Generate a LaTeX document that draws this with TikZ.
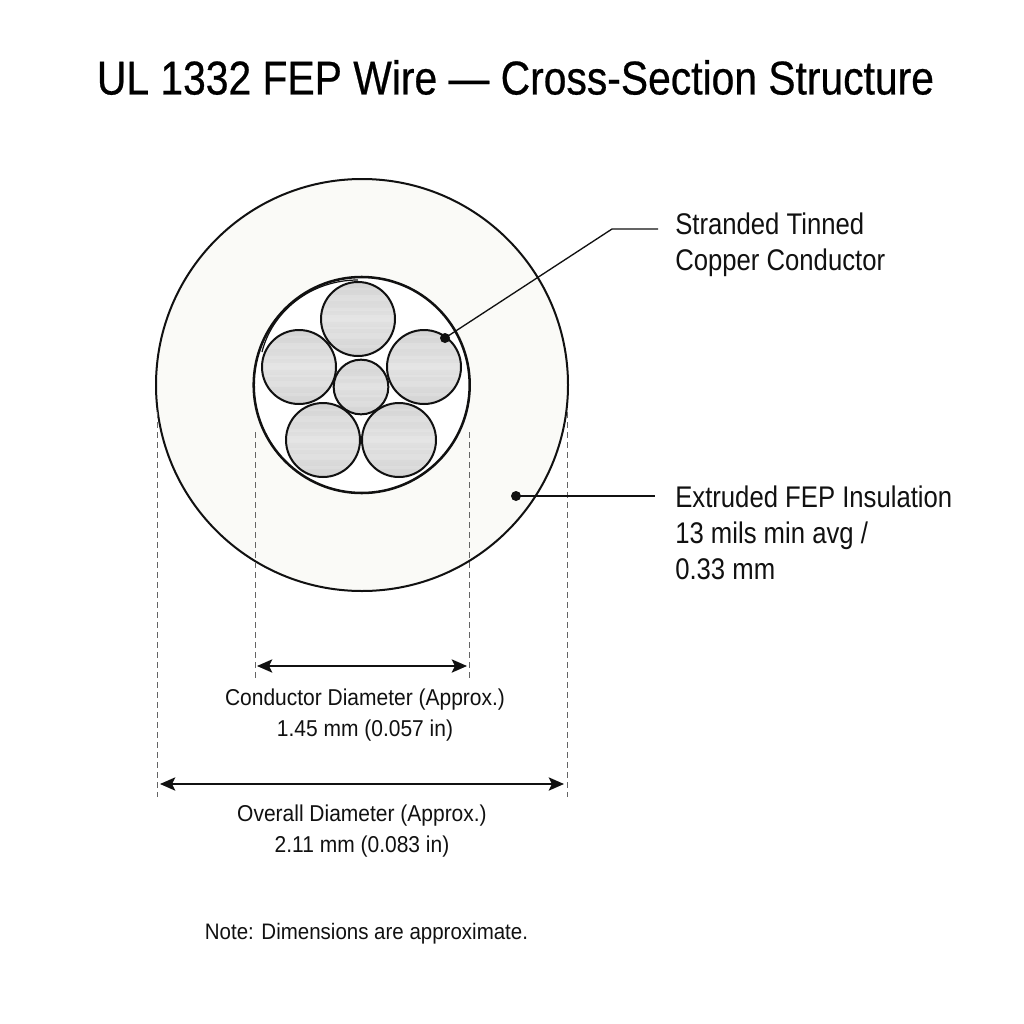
\documentclass[tikz,border=0pt]{standalone}
\usepackage{fontspec}
\setmainfont{Liberation Sans}
\newfontfamily\titlefam[FakeStretch=0.86,FakeBold=0.5]{Liberation Sans}
\newfontfamily\lblfam[FakeStretch=0.86]{Liberation Sans}
\newfontfamily\dimfam[FakeStretch=0.915]{Liberation Sans}
\usetikzlibrary{arrows.meta}
\definecolor{ink}{HTML}{111111}
\definecolor{insul}{HTML}{FAFAF7}
\definecolor{metal}{HTML}{D4D4D4}
\newcommand{\brushed}{%
  \foreach \yy/\hh in {-31/2,-24/6,-11/3,-4/7,8/2,14/6,26/3}{%
    \fill[white,opacity=0.14] (-45,\yy) rectangle (45,\yy+\hh);}}
\tikzset{
  px/.style={x=0.75pt,y=-0.75pt},
  wirecirc/.style={circle,draw=ink,line width=1.5pt,inner sep=0pt},
  strandbig/.style={wirecirc,minimum size=55.5pt,top color=metal,bottom color=metal,middle color=metal!70!white,path picture={\brushed}},
  strandmid/.style={wirecirc,minimum size=41pt,top color=metal,bottom color=metal,middle color=metal!75!white,path picture={\brushed}},
  dotmark/.style={circle,fill=ink,draw=none,minimum size=7.5pt,inner sep=0pt},
  leader/.style={draw=ink,line width=1pt},
  dimline/.style={draw=ink,line width=1.15pt,{Stealth[length=11.5pt,width=10pt,inset=2.5pt]}-{Stealth[length=11.5pt,width=10pt,inset=2.5pt]}},
  witness/.style={draw=ink!65,line width=0.55pt,dash pattern=on 4.5pt off 3pt},
  lbl/.style={inner sep=0pt,align=left,anchor=west,text=ink,font=\lblfam\fontsize{22.4}{27}\selectfont},
  dimlbl/.style={inner sep=0pt,align=center,text=ink,font=\dimfam\fontsize{17.2}{23.2}\selectfont},
}
\begin{document}
\begin{tikzpicture}[px]
\useasboundingbox (0,0) rectangle (1024,1024);
\fill[white] (0,0) rectangle (1024,1024);
\node[inner sep=0pt,text=black,font=\titlefam\fontsize{35.6}{40}\selectfont] (title) at (515.5,77.5) {UL 1332 FEP Wire — Cross-Section Structure};
\node[circle,draw=ink,line width=1.5pt,fill=insul,minimum size=309pt,inner sep=0pt] (outer) at (362,385) {};
\node[circle,draw=ink,line width=1.9pt,fill=white,minimum size=162pt,inner sep=0pt] (inner) at (361.7,385) {};
\draw[ink,line width=0.9pt] (262,352) .. controls (272,312) and (310,280) .. (358,280);
\node[strandbig] (s1) at (358,319) {};
\node[strandbig] (s2) at (299,367) {};
\node[strandbig] (s3) at (424,367) {};
\node[strandmid] (s0) at (361,387) {};
\node[strandbig] (s4) at (323,440) {};
\node[strandbig] (s5) at (399,440) {};
% witness lines
\coordinate (wa1) at (157,412); \coordinate (wa2) at (157,797);
\coordinate (wb1) at (567,412); \coordinate (wb2) at (567,797);
\coordinate (wc1) at (255,432); \coordinate (wc2) at (255,680);
\coordinate (wd1) at (469,432); \coordinate (wd2) at (469,680);
\draw[witness] (wa1) -- (wa2);
\draw[witness] (wb1) -- (wb2);
\draw[witness] (wc1) -- (wc2);
\draw[witness] (wd1) -- (wd2);
% dimension arrows
\coordinate (c1) at (257,666); \coordinate (c2) at (467,666);
\coordinate (o1) at (160,784); \coordinate (o2) at (564,784);
\draw[dimline] (c1) -- (c2);
\draw[dimline] (o1) -- (o2);
% leaders
\node[dotmark] (d1) at (445,338) {};
\node[dotmark] (d2) at (516,496) {};
\coordinate (k1) at (612,229); \coordinate (e1) at (658,229); \coordinate (e2) at (655,496);
\draw[leader] (d1.center) -- (k1) -- (e1);
\draw[leader] (d2.center) -- (e2);
% labels
\node[lbl] (l1) at (675,245) {Stranded Tinned\\Copper Conductor};
\node[lbl] (l2) at (675,533) {Extruded FEP Insulation\\13 mils min avg /\\0.33 mm};
\node[dimlbl] (l3) at (365,715.5) {Conductor Diameter (Approx.)\\1.45 mm (0.057 in)};
\node[dimlbl] (l4) at (362,831) {Overall Diameter (Approx.)\\2.11 mm (0.083 in)};
\node[inner sep=0pt,text=ink,font=\dimfam\fontsize{16.8}{20}\selectfont] (l5) at (366.5,934) {Note: Dimensions are approximate.};
\end{tikzpicture}
\end{document}
